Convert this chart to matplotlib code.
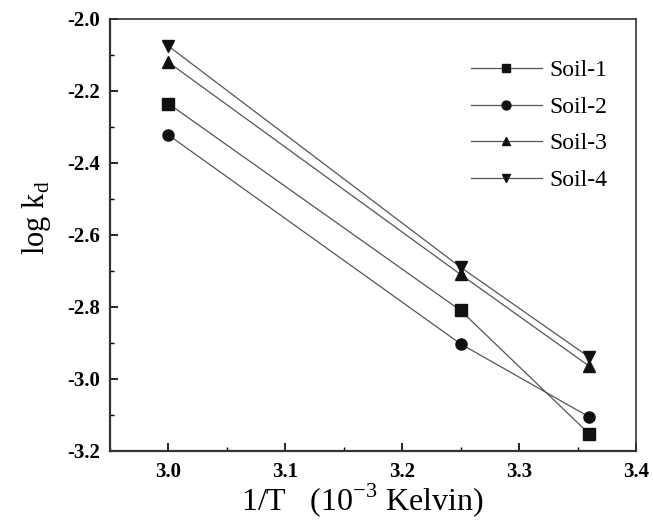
import matplotlib.pyplot as plt
from matplotlib.ticker import MultipleLocator

plt.rcParams['font.family'] = ['Liberation Serif', 'DejaVu Serif']
plt.rcParams['mathtext.fontset'] = 'custom'
plt.rcParams['mathtext.rm'] = 'Liberation Serif'
plt.rcParams['axes.unicode_minus'] = False

inv_t = [3.0, 3.25, 3.36]
soil_1 = [-2.235, -2.81, -3.153]
soil_2 = [-2.322, -2.903, -3.106]
soil_3 = [-2.12, -2.71, -2.965]
soil_4 = [-2.075, -2.69, -2.94]
series = [
    ("Soil-1", soil_1, "s"),
    ("Soil-2", soil_2, "o"),
    ("Soil-3", soil_3, "^"),
    ("Soil-4", soil_4, "v"),
]

fig = plt.figure(figsize=(6.53, 5.26), dpi=100)
ax = fig.add_axes([0.168, 0.143, 0.806, 0.821])

for name, vals, mk in series:
    ax.plot(inv_t, vals, color='#555555', linewidth=0.9, marker=mk,
            markersize=8, markerfacecolor='#111111', markeredgecolor='#111111',
            label=name)

ax.set_xlim(2.95, 3.4)
ax.set_ylim(-3.2, -2.0)
ax.xaxis.set_major_locator(MultipleLocator(0.1))
ax.xaxis.set_minor_locator(MultipleLocator(0.05))
ax.yaxis.set_major_locator(MultipleLocator(0.2))
ax.yaxis.set_minor_locator(MultipleLocator(0.1))
ax.tick_params(which='both', direction='in', top=False, right=False,
               labelsize=15)
ax.tick_params(axis='y', pad=7)
ax.tick_params(axis='x', pad=8)
ax.tick_params(which='major', length=6, width=1.2)
ax.tick_params(which='minor', length=3, width=1.0)
for lbl in ax.get_xticklabels() + ax.get_yticklabels():
    lbl.set_fontweight('bold')

ax.spines['left'].set_linewidth(1.6)
ax.spines['bottom'].set_linewidth(1.6)
ax.spines['top'].set_linewidth(1.2)
ax.spines['right'].set_linewidth(1.2)
for s in ax.spines.values():
    s.set_color('#333333')

ax.set_xlabel(r'1/T   (10$^{-3}$ Kelvin)', fontsize=23, labelpad=0)
ax.xaxis.set_label_coords(0.48, -0.07, transform=ax.transAxes)
ax.set_ylabel(r'log k$_{\rm d}$', fontsize=22)
ax.yaxis.set_label_coords(-0.108, 0.54, transform=ax.transAxes)

ax.legend(loc='upper right', frameon=False, fontsize=17,
          bbox_to_anchor=(0.985, 0.955), handlelength=3.0,
          labelspacing=0.64, handletextpad=0.3, markerscale=0.8)

fig.savefig('out.png', dpi=100)
